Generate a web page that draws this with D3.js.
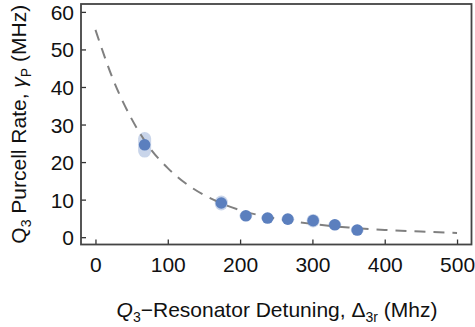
<!DOCTYPE html>
<html><head><meta charset="utf-8">
<script src="https://cdn.jsdelivr.net/npm/d3@7"></script>
<style>html,body{margin:0;padding:0;background:#fff}</style>
</head><body><svg id="c" width="475" height="327"></svg>
<script>
const detuning = [68, 174, 208, 238, 266, 301, 331, 362];
const purcell  = [24.6, 9.1, 5.7, 5.1, 4.8, 4.4, 3.3, 1.9];
const errors   = [3.4, 2.0, 1.3, 1.3, 1.4, 1.8, 1.4, 1.4];
const fitX = [0,25,50,75,100,125,150,175,200,250,300,350,400,450,500];
const fitY = [55.2,41.7,31.5,23.8,18.4,14.3,11.25,8.95,7.2,4.95,3.52,2.58,1.94,1.48,1.14];
const xTicks = [0,100,200,300,400,500];
const yTicks = [0,10,20,30,40,50,60];

const svg = d3.select("#c");
const L = 81, R = 471.5, T = 4, B = 244.5;
const x = d3.scaleLinear().domain([-20, 520]).range([L, R]);
const y = d3.scaleLinear().domain([-1.95, 62.1]).range([B, T]);
const font = "'Liberation Sans', Arial, sans-serif";
const FS = 21;

// axes
const gx = svg.append("g").attr("transform", `translate(0,${B})`)
  .call(d3.axisBottom(x).tickValues(xTicks).tickSizeInner(-5).tickSizeOuter(0).tickPadding(13));
const gy = svg.append("g").attr("transform", `translate(${L},0)`)
  .call(d3.axisLeft(y).tickValues(yTicks).tickSizeInner(-5).tickSizeOuter(0).tickPadding(7));
[gx, gy].forEach(g => {
  g.select(".domain").remove();
  g.selectAll("line").attr("stroke", "#333").attr("stroke-width", 1.3);
  g.selectAll("text").attr("font-family", font).attr("font-size", FS).attr("fill", "#111");
});
gy.selectAll("text").attr("dy", "0.36em");

// frame
svg.append("rect").attr("x", L).attr("y", T).attr("width", R - L).attr("height", B - T)
  .attr("fill", "none").attr("stroke", "#444").attr("stroke-width", 1.8);

// error bands
const pts = detuning.map((d, i) => ({x: d, y: purcell[i], e: errors[i]}));
svg.append("g").selectAll("rect").data(pts).join("rect")
  .attr("x", d => x(d.x) - 6.5)
  .attr("width", 13)
  .attr("y", d => y(d.y + d.e))
  .attr("height", d => y(d.y - d.e) - y(d.y + d.e))
  .attr("rx", 6.5)
  .attr("fill", "#c9d5ea");

// fit line
const line = d3.line().x(d => x(d[0])).y(d => y(d[1])).curve(d3.curveMonotoneX);
svg.append("path").datum(fitX.map((v, i) => [v, fitY[i]]))
  .attr("d", line).attr("fill", "none").attr("stroke", "#808080")
  .attr("stroke-width", 2).attr("stroke-dasharray", "11,8");

// points
svg.append("g").selectAll("circle").data(pts).join("circle")
  .attr("cx", d => x(d.x)).attr("cy", d => y(d.y)).attr("r", 5.8)
  .attr("fill", "#5b7fbe");

// x title
const xt = svg.append("text").attr("x", 277).attr("y", 317)
  .attr("text-anchor", "middle").attr("font-family", font).attr("font-size", FS).attr("fill", "#111");
xt.append("tspan").attr("font-style", "italic").text("Q");
xt.append("tspan").attr("font-size", 14).attr("dy", 5).text("3");
xt.append("tspan").attr("dy", -5).text("\u2212Resonator Detuning, \u0394");
xt.append("tspan").attr("font-size", 14).attr("dy", 5).text("3r");
xt.append("tspan").attr("dy", -5).text(" (Mhz)");

// y title
const yt = svg.append("text").attr("transform", `translate(26,${(T + B) / 2}) rotate(-90)`)
  .attr("text-anchor", "middle").attr("font-family", font).attr("font-size", FS).attr("fill", "#111");
yt.append("tspan").text("Q");
yt.append("tspan").attr("font-size", 14).attr("dy", 5).text("3");
yt.append("tspan").attr("dy", -5).text(" Purcell Rate, ");
yt.append("tspan").attr("font-style", "italic").text("\u03B3");
yt.append("tspan").attr("font-size", 14).attr("dy", 5).text("P");
yt.append("tspan").attr("dy", -5).text(" (MHz)");
</script></body></html>
